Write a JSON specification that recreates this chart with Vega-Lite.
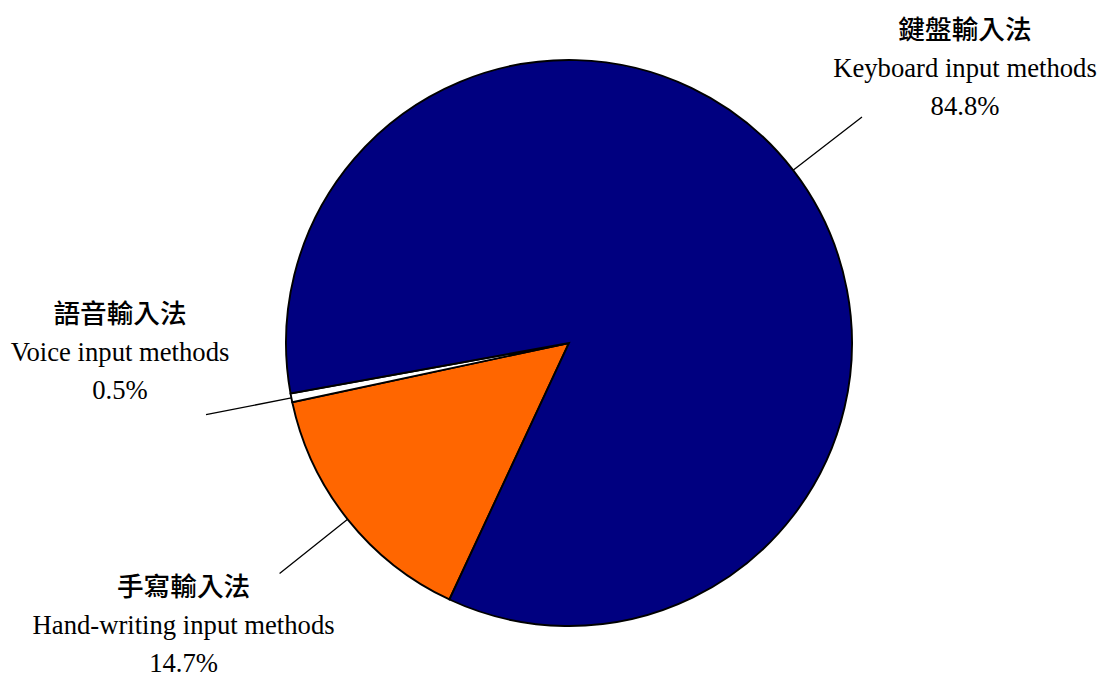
{
  "$schema": "https://vega.github.io/schema/vega-lite/v6.json",
  "width": 1060,
  "height": 662,
  "autosize": {"type": "none"},
  "padding": {"left": 39, "top": 12, "right": 1, "bottom": 0},
  "background": "white",
  "config": {"view": {"stroke": null}},
  "data": {
    "values": [
      {"zh": "手寫輸入法", "en": "Hand-writing input methods", "pct": 14.7, "ord": 1},
      {"zh": "語音輸入法", "en": "Voice input methods", "pct": 0.5, "ord": 2},
      {"zh": "鍵盤輸入法", "en": "Keyboard input methods", "pct": 84.8, "ord": 3}
    ]
  },
  "transform": [
    {"stack": "pct", "groupby": [], "sort": [{"field": "ord", "order": "ascending"}], "as": ["s0", "s1"]},
    {"calculate": "(datum.s0 + datum.s1) / 2", "as": "mid"},
    {"calculate": "datum.en + '\\n' + format(datum.pct, '.1f') + '%'", "as": "label"}
  ],
  "layer": [
    {
      "mark": {"type": "arc", "radius": 283, "stroke": "black", "strokeWidth": 1.9},
      "encoding": {
        "theta": {"field": "s0", "type": "quantitative", "stack": null, "scale": {"domain": [0, 100], "range": [3.578, 9.861]}},
        "theta2": {"field": "s1"},
        "color": {
          "field": "en",
          "type": "nominal",
          "scale": {
            "domain": ["Hand-writing input methods", "Voice input methods", "Keyboard input methods"],
            "range": ["#FF6600", "#FFFFFF", "#000080"]
          },
          "legend": null
        }
      }
    },
    {
      "mark": {"type": "arc", "radius": 370, "radius2": 283, "filled": false, "stroke": "black", "strokeWidth": 1.3},
      "encoding": {
        "theta": {"field": "mid", "type": "quantitative", "stack": null},
        "theta2": {"field": "mid"}
      }
    },
    {
      "transform": [{"filter": "datum.ord == 3"}],
      "mark": {"type": "text", "radius": 370, "dx": 103, "dy": -86, "align": "center", "baseline": "middle", "fontSize": 26.67, "fontWeight": 500, "font": "'Noto Sans CJK TC'", "color": "black"},
      "encoding": {
        "theta": {"field": "mid", "type": "quantitative", "stack": null},
        "text": {"field": "zh", "type": "nominal"}
      }
    },
    {
      "transform": [{"filter": "datum.ord == 3"}],
      "mark": {"type": "text", "radius": 370, "dx": 103, "dy": -48, "align": "center", "baseline": "middle", "lineBreak": "\n", "lineHeight": 38, "fontSize": 26.67, "font": "'Liberation Serif'", "color": "black"},
      "encoding": {
        "theta": {"field": "mid", "type": "quantitative", "stack": null},
        "text": {"field": "label", "type": "nominal"}
      }
    },
    {
      "transform": [{"filter": "datum.ord == 1"}],
      "mark": {"type": "text", "radius": 370, "dx": -96, "dy": 14, "align": "center", "baseline": "middle", "fontSize": 26.67, "fontWeight": 500, "font": "'Noto Sans CJK TC'", "color": "black"},
      "encoding": {
        "theta": {"field": "mid", "type": "quantitative", "stack": null},
        "text": {"field": "zh", "type": "nominal"}
      }
    },
    {
      "transform": [{"filter": "datum.ord == 1"}],
      "mark": {"type": "text", "radius": 370, "dx": -96, "dy": 52, "align": "center", "baseline": "middle", "lineBreak": "\n", "lineHeight": 38, "fontSize": 26.67, "font": "'Liberation Serif'", "color": "black"},
      "encoding": {
        "theta": {"field": "mid", "type": "quantitative", "stack": null},
        "text": {"field": "label", "type": "nominal"}
      }
    },
    {
      "transform": [{"filter": "datum.ord == 2"}],
      "mark": {"type": "text", "radius": 370, "dx": -86, "dy": -100, "align": "center", "baseline": "middle", "fontSize": 26.67, "fontWeight": 500, "font": "'Noto Sans CJK TC'", "color": "black"},
      "encoding": {
        "theta": {"field": "mid", "type": "quantitative", "stack": null},
        "text": {"field": "zh", "type": "nominal"}
      }
    },
    {
      "transform": [{"filter": "datum.ord == 2"}],
      "mark": {"type": "text", "radius": 370, "dx": -86, "dy": -62, "align": "center", "baseline": "middle", "lineBreak": "\n", "lineHeight": 38, "fontSize": 26.67, "font": "'Liberation Serif'", "color": "black"},
      "encoding": {
        "theta": {"field": "mid", "type": "quantitative", "stack": null},
        "text": {"field": "label", "type": "nominal"}
      }
    }
  ]
}
